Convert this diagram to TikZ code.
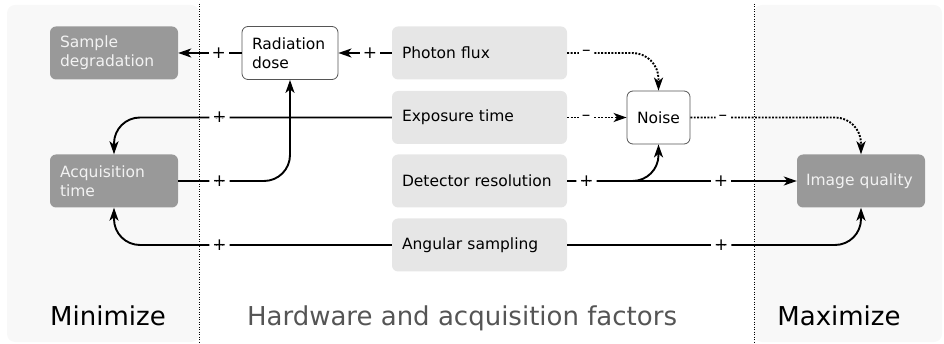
\documentclass[tikz,border=0pt]{standalone}
\usepackage{fontspec}
\setmainfont{DejaVu Sans}
\usetikzlibrary{arrows.meta}
\definecolor{panel}{HTML}{F8F8F8}
\definecolor{outgrey}{HTML}{999999}
\definecolor{factgrey}{HTML}{E6E6E6}
\definecolor{edge}{HTML}{555555}
\definecolor{caption}{HTML}{555555}
\begin{document}
\begin{tikzpicture}[x=1pt,y=-1pt,
    every node/.style={font=\fontsize{15.5}{19}\selectfont},
    box/.style={rounded corners=6pt,minimum height=53pt,inner xsep=10pt,align=left},
    outcome/.style={box,fill=outgrey,text=white!95!black,text width=108pt},
    factor/.style={box,fill=factgrey,text width=155pt},
    inter/.style={box,draw=edge,line width=0.8pt,fill=white},
    arr/.style={line width=1.9pt,-{Stealth[length=13pt,width=9pt,inset=3.5pt]}},
    dots/.style={arr,dash pattern=on 1.9pt off 1.5pt},
    turn/.style={rounded corners=26pt},
    pm/.style={fill=white,inner sep=3pt,font=\fontsize{17}{17}\selectfont},
    split/.style={line width=0.8pt,dash pattern=on 1pt off 1.5pt},
    heading/.style={font=\fontsize{26}{30}\selectfont,anchor=base}]
    \useasboundingbox (0,0) rectangle (944,344);
    \fill[panel,rounded corners=8pt] (7,5) rectangle (199,342);
    \fill[panel,rounded corners=8pt] (754,5) rectangle (942,342);
    \draw[split] (199,4) -- (199,344);
    \draw[split] (754,4) -- (754,344);

    \node[outcome] (sample)  at (114,53)    {Sample\\degradation};
    \node[outcome] (acqtime) at (114,181)   {Acquisition\\time};
    \node[outcome,text width=110pt,inner xsep=9pt] (imgq) at (861,181) {Image quality};
    \node[inter,text width=76pt] (dose) at (290,53) {Radiation\\dose};
    \node[inter,minimum width=63pt,inner xsep=0pt,align=center] (noise) at (658.5,117.5) {Noise};
    \node[factor] (flux)    at (479.5,53)    {Photon flux};
    \node[factor] (expo)    at (479.5,117.5) {Exposure time};
    \node[factor] (detres)  at (479.5,181)   {Detector resolution};
    \node[factor] (angsamp) at (479.5,245)   {Angular sampling};

    \draw[arr] (dose) -- node[pm,pos=0.36]{+} (sample);
    \draw[arr] (flux) -- node[pm,pos=0.41]{+} (dose);
    \draw[dots,turn] (flux.east) -- node[pm,pos=0.21]{–} (flux.east -| noise.north) -- (noise.north);
    \draw[dots] (expo) -- node[pm,pos=0.32]{–} (noise);
    \draw[dots,turn] (noise.east) -- node[pm,pos=0.19]{–} (noise.east -| imgq.north) -- (imgq.north);
    \draw[arr,turn] (expo.west) -- node[pm,pos=0.62]{+} (expo.west -| acqtime.north) -- (acqtime.north);
    \draw[arr,turn] (acqtime.east) -- node[pm,pos=0.37]{+} (acqtime.east -| dose.south) -- (dose.south);
    \draw[arr,turn] (angsamp.west) -- node[pm,pos=0.62]{+} (angsamp.west -| acqtime.south) -- (acqtime.south);
    \draw[arr,turn] (angsamp.east) -- node[pm,pos=0.524]{+} (angsamp.east -| imgq.south) -- (imgq.south);
    \draw[arr] (detres) -- node[pm,pos=0.67]{+} (imgq);
    \draw[arr,turn] (detres.east) -- node[pm,pos=0.21]{+} (detres.east -| noise.south) -- (noise.south);

    \node[heading] (minlab) at (108,325) {Minimize};
    \node[heading,text=caption] (hwlab) at (462,325) {Hardware and acquisition factors};
    \node[heading] (maxlab) at (839,325) {Maximize};
  \end{tikzpicture}
\end{document}
